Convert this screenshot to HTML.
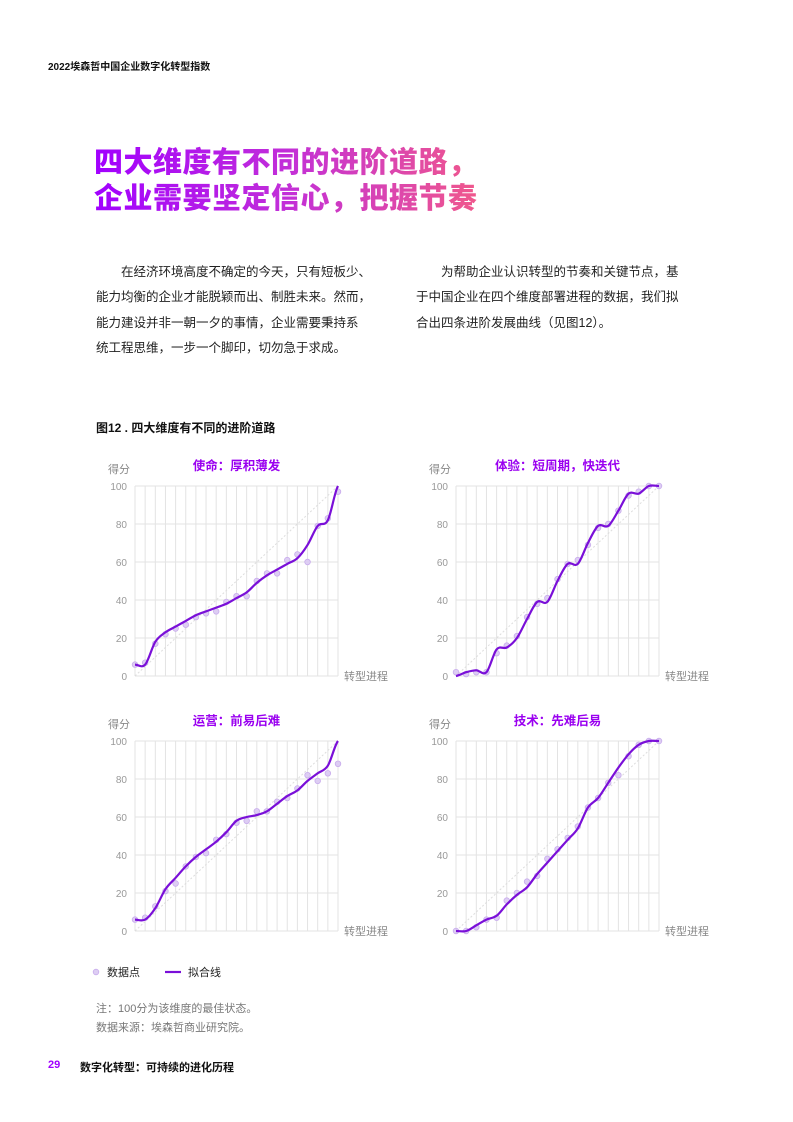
<!DOCTYPE html>
<html><head><meta charset="utf-8">
<style>
body{margin:0;width:793px;height:1122px;position:relative;background:#fff;font-family:"Liberation Sans","Noto Sans CJK SC",sans-serif;overflow:hidden}
.a{position:absolute;white-space:nowrap}
.hdr{left:48px;top:58px;font-size:10px;font-weight:bold;color:#111}
.ttl{left:94px;top:145px;font-size:29px;font-weight:900;line-height:36px;background:linear-gradient(90deg,#a100ff 0%,#c22fd8 50%,#f0588c 100%);-webkit-background-clip:text;background-clip:text;color:transparent;letter-spacing:0.5px}
.p{font-size:12.5px;color:#222;line-height:25.3px}
.fig{left:96px;top:419px;font-size:12px;font-weight:bold;color:#111}
.note{left:96px;font-size:11px;color:#777}
.foot{top:1059px;font-size:11px;font-weight:bold;color:#111}
</style></head><body>
<div class="a hdr">2022埃森哲中国企业数字化转型指数</div>
<div class="a ttl">四大维度有不同的进阶道路，<br>企业需要坚定信心，把握节奏</div>
<div class="a p" style="left:96px;top:260px">&emsp;&emsp;在经济环境高度不确定的今天，只有短板少、<br>能力均衡的企业才能脱颖而出、制胜未来。然而，<br>能力建设并非一朝一夕的事情，企业需要秉持系<br>统工程思维，一步一个脚印，切勿急于求成。</div>
<div class="a p" style="left:416px;top:260px">&emsp;&emsp;为帮助企业认识转型的节奏和关键节点，基<br>于中国企业在四个维度部署进程的数据，我们拟<br>合出四条进阶发展曲线（见图12）。</div>
<div class="a fig">图12 . 四大维度有不同的进阶道路</div>
<svg id="charts" class="a" style="left:0;top:0" width="793" height="1122"></svg>
<div class="a note" style="top:1000px">注：100分为该维度的最佳状态。</div>
<div class="a note" style="top:1019px">数据来源：埃森哲商业研究院。</div>
<div class="a foot" style="left:48px;color:#a100ff">29</div>
<div class="a foot" style="left:80px">数字化转型：可持续的进化历程</div>
<script>
const yTicks=[0,20,40,60,80,100];
const titles=["使命：厚积薄发","体验：短周期，快迭代","运营：前易后难","技术：先难后易"];
const pts1=[6,7,17,22,25,27,31,33,34,39,42,42,50,54,54,61,64,60,79,83,97];
const fit1=[6,6,18,23,26,29,32,34,36,38,41,44,49,53,56,59,62,69,79,82,100];
const pts2=[2,1,2,2,12,16,21,31,38,41,51,59,61,69,78,80,87,95,97,100,100];
const fit2=[0,2,3,2,14,15,20,30,39,39,50,59,59,70,79,79,87,96,96,100,100];
const pts3=[6,7,13,21,25,34,39,41,48,51,57,58,63,63,68,70,75,82,79,83,88];
const fit3=[6,6,12,22,28,34,39,43,47,52,58,60,61,63,67,71,74,79,83,87,100];
const pts4=[0,0,2,6,7,16,20,26,29,38,43,49,55,65,70,78,82,92,98,100,100];
const fit4=[0,0,3,6,8,14,19,23,30,36,42,48,54,65,70,78,86,93,98,100,100];
const NS="http://www.w3.org/2000/svg";
const svg=document.getElementById('charts');
function mk(t,a,p){const e=document.createElementNS(NS,t);for(const k in a)e.setAttribute(k,a[k]);(p||svg).appendChild(e);return e;}
const panels=[[135,338,486,676,pts1,fit1],[456,659,486,676,pts2,fit2],[135,338,741,931,pts3,fit3],[456,659,741,931,pts4,fit4]];
panels.forEach((pp,ci)=>{
 const [x0,x1,yt,yb,pts,fit]=pp;
 const g=mk('g',{});
 
 
 const n=pts.length;
 const X=i=>x0+(x1-x0)*i/(n-1);
 const Y=v=>yb-(yb-yt)*v/100;
 for(let i=0;i<n;i++){const l=mk('line',{x1:X(i),x2:X(i),y1:yt,y2:yb,stroke:'#e3e3e3','stroke-width':1},g);
  
  }
 yTicks.forEach(v=>{const l=mk('line',{x1:x0,x2:x1,y1:Y(v),y2:Y(v),stroke:'#e3e3e3','stroke-width':1},g);
  
  
  const t=mk('text',{x:x0-8,y:Y(v)+4,'text-anchor':'end','font-size':10,fill:'#999'},g);t.textContent=v;
  
  });
 const ya=mk('text',{x:x0-27,y:yt-13,'font-size':11,fill:'#888'},g);ya.textContent='得分';
 
 
 const xa=mk('text',{x:x1+6,y:yb+4,'font-size':11,fill:'#888'},g);xa.textContent='转型进程';
 
 
 const tt=mk('text',{x:(x0+x1)/2,y:yt-16,'text-anchor':'middle','font-size':12.5,'font-weight':'bold',fill:'#9a00f0'},g);tt.textContent=titles[ci];
 
 
 const dg=mk('line',{x1:X(0),y1:Y(0),x2:X(n-1),y2:Y(100),stroke:'#ddd','stroke-width':1,'stroke-dasharray':'2,2'},g);
 
 
 pts.forEach((v,i)=>{const c=mk('circle',{cx:X(i),cy:Y(v),r:2.8,fill:'#ddcdf3',stroke:'#c8acec','stroke-width':0.8},g);
  
  });
 let d='M'+X(0)+','+Y(fit[0]);
 for(let i=0;i<n-1;i++){const p0=fit[Math.max(0,i-1)],p1=fit[i],p2=fit[i+1],p3=fit[Math.min(n-1,i+2)];
  const xa1=X(i),xb=X(i+1),dx=(xb-xa1)/3;
  d+=' C'+(xa1+dx)+','+Y(p1+(p2-p0)/6)+' '+(xb-dx)+','+Y(p2-(p3-p1)/6)+' '+xb+','+Y(p2);}
 const ln=mk('path',{d:d,fill:'none',stroke:'#7a0fd8','stroke-width':2.2},g);
 
 
});
const lg=mk('g',{});


const lc=mk('circle',{cx:96,cy:972,r:2.8,fill:'#ddcdf3',stroke:'#c8acec','stroke-width':0.8},lg);


const lt1=mk('text',{x:107,y:976,'font-size':11,fill:'#222'},lg);lt1.textContent='数据点';


const ll=mk('line',{x1:165,x2:181,y1:972,y2:972,stroke:'#7a0fd8','stroke-width':2.2},lg);


const lt2=mk('text',{x:188,y:976,'font-size':11,fill:'#222'},lg);lt2.textContent='拟合线';


</script>
</body></html>
